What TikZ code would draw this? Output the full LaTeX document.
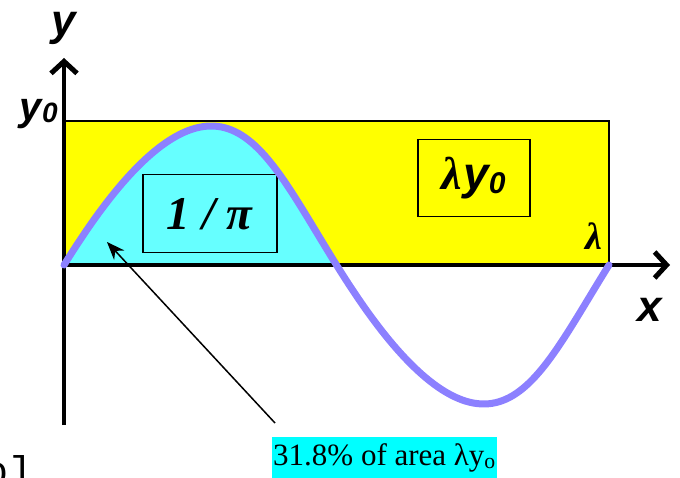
\documentclass[tikz,border=0pt]{standalone}
\usepackage{fontspec}
\setmainfont{Liberation Serif}
\newfontfamily\arialf{Liberation Sans}
\newfontfamily\monof{Liberation Mono}
\usetikzlibrary{arrows.meta}
\definecolor{wave}{RGB}{140,128,255}
\definecolor{lightcyan}{RGB}{102,255,255}
\definecolor{labcyan}{RGB}{0,255,255}
\definecolor{yel}{RGB}{255,255,0}
\tikzset{
  axis/.style={line width=4.5pt,-{Straight Barb[length=12pt,width=26pt,line width=5pt]}},
  valbox/.style={draw=black,line width=1.5pt,inner sep=0pt},
  axlabel/.style={font=\arialf\bfseries\itshape\fontsize{44}{48}\selectfont,inner sep=0pt},
}
\begin{document}
\begin{tikzpicture}[x=1pt,y=-1pt]
\useasboundingbox (0,0) rectangle (680,478);
% yellow rectangle
\fill[yel] (64,121) rectangle (609,265);
\draw[line width=2pt] (64,121) -- (609,121) -- (609,265);
% cyan hump
\fill[lightcyan] plot[domain=0:180,samples=80,variable=\t] ({64+1.51389*\t+5.5*(1-cos(2*\t))},{265-139*sin(\t)}) -- cycle;
% boxes
\node[valbox,fill=lightcyan,minimum width=134pt,minimum height=78pt,anchor=north west] (pibox) at (142,174)
  {\fontsize{47}{50}\selectfont\bfseries\itshape 1 / π};
\node[valbox,fill=yel,minimum width=112pt,minimum height=77pt,anchor=north west] (lybox) at (417,139)
  {\fontsize{46}{48}\selectfont\bfseries\itshape λ\kern1pt{\arialf\bfseries y\raisebox{-0.15ex}{\fontsize{30}{32}\selectfont 0}}};
% axes
\coordinate (origin) at (64,425);
\coordinate (ytip) at (64,58);
\coordinate (xstart) at (62,265);
\coordinate (xtip) at (670,265);
\draw[axis] (origin) -- (ytip);
\draw[axis] (xstart) -- (xtip);
% wave
\draw[wave,line width=7pt,line cap=round] plot[domain=0:360,samples=150,variable=\t] ({64+1.51389*\t+5.5*(1-cos(2*\t))},{265-139*sin(\t)});
% labels
\node[axlabel] (ylab) at (64,28) {y};
\node[axlabel] (xlab) at (650,310) {x};
\node[inner sep=0pt,anchor=east] (y0lab) at (58,114) {\arialf\bfseries\itshape\fontsize{40}{44}\selectfont y\raisebox{-0.1ex}{\fontsize{28}{30}\selectfont 0}};
\node[inner sep=0pt] (lamlab) at (594,236) {\fontsize{38}{40}\selectfont\bfseries\itshape λ};
% pointer
\node[fill=labcyan,inner xsep=1pt,inner ysep=0pt,anchor=north west,text height=28pt,text depth=13pt] (note) at (272,437)
  {\fontsize{31}{34}\selectfont 31.8\% of area λy\textsubscript{o}};
\coordinate (ptip) at (107,242);
\draw[line width=1.5pt,-{Stealth[length=18pt,width=14pt]}] (275,423) -- (ptip);
% stray fragment
\node[inner sep=0pt,anchor=base east] (frag) at (33,484) {\monof\fontsize{40}{42}\selectfont o]};
\end{tikzpicture}
\end{document}
